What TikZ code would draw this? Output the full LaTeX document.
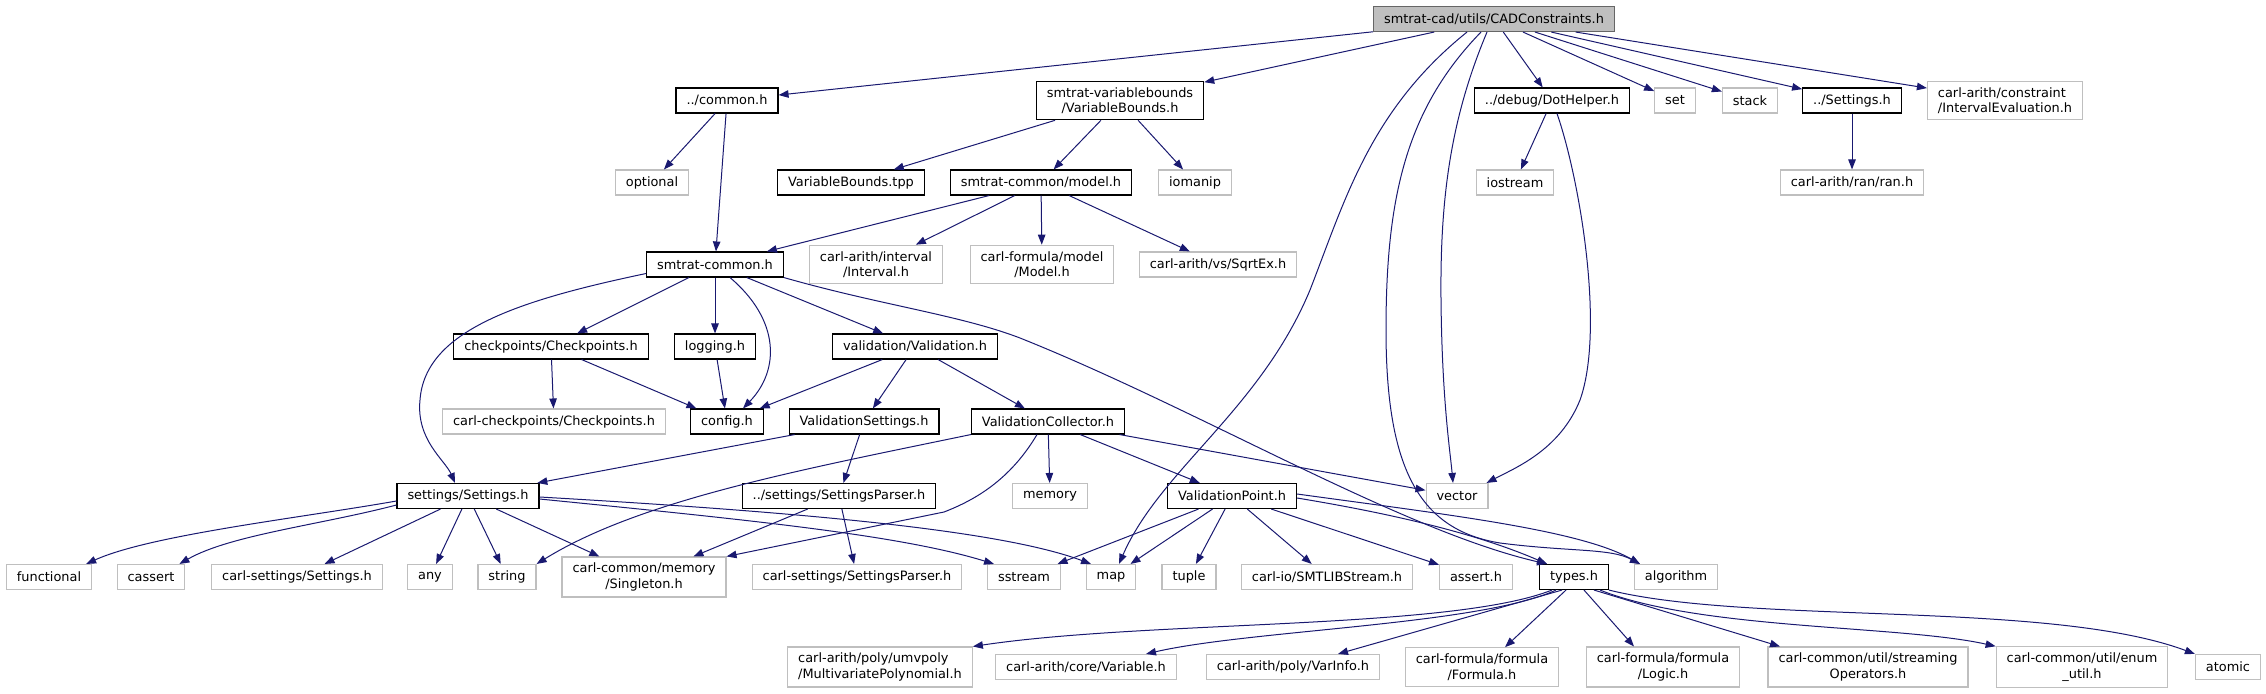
\documentclass[tikz,border=0pt]{standalone}
\usepackage{fontspec}
\setmainfont{DejaVu Sans}
\usepackage{xcolor}
\usetikzlibrary{arrows.meta}
\definecolor{edgeblue}{HTML}{191970}
\definecolor{grayline}{HTML}{BFBFBF}
\definecolor{rootfill}{HTML}{BFBFBF}
\tikzset{
  box/.style     ={draw,align=center,inner xsep=10.5pt,inner ysep=6pt,minimum height=25pt,
                   line width=1.1pt,font=\fontsize{12.9}{15.5}\selectfont,fill=white},
  file/.style    ={box,draw=black},
  sysfile/.style ={box,draw=grayline},
  rootfile/.style={box,draw=black!60,fill=rootfill},
  inc/.style     ={-{Triangle[length=10pt,width=7.5pt]},line width=1pt,edgeblue},
}
\begin{document}
\begin{tikzpicture}[x=1pt,y=-1pt]
  \useasboundingbox (0,0) rectangle (2266,693);
  % root and first level
  \node[rootfile] (root) at (1494,19) {smtrat-cad/utils/CADConstraints.h};
  \node[file]    (common)    at (727,100.5)  {../common.h};
  \node[file]    (varbounds) at (1120,100.5) {smtrat-variablebounds\\/VariableBounds.h};
  \node[file]    (dothelper) at (1552,100.5) {../debug/DotHelper.h};
  \node[sysfile] (set)       at (1675,100.5) {set};
  \node[sysfile] (stack)     at (1750,100.5) {stack};
  \node[file]    (settingsT) at (1852,100.5) {../Settings.h};
  \node[sysfile,align=left] (intereval) at (2005,100.5) {carl-arith/constraint\\/IntervalEvaluation.h};
  % second level
  \node[sysfile] (optional) at (652,182.5)  {optional};
  \node[file]    (vbtpp)    at (851,182.5)  {VariableBounds.tpp};
  \node[file]    (model)    at (1041,182.5) {smtrat-common/model.h};
  \node[sysfile] (iomanip)  at (1195,182.5) {iomanip};
  \node[sysfile] (iostream) at (1515,182.5) {iostream};
  \node[sysfile] (ran)      at (1852,182.5) {carl-arith/ran/ran.h};
  % smtrat-common row
  \node[file]    (smtcommon) at (715,264.5)  {smtrat-common.h};
  \node[sysfile] (interval)  at (876,264.5)  {carl-arith/interval\\/Interval.h};
  \node[sysfile] (modelh)    at (1042,264.5) {carl-formula/model\\/Model.h};
  \node[sysfile] (sqrtex)    at (1218,264.5) {carl-arith/vs/SqrtEx.h};
  \node[file]    (checkpoints) at (551,346.5) {checkpoints/Checkpoints.h};
  \node[file]    (logging)     at (715,346.5) {logging.h};
  \node[file]    (validation)  at (915,346.5) {validation/Validation.h};
  \node[sysfile] (carlcheck)    at (554,421.5)  {carl-checkpoints/Checkpoints.h};
  \node[file]    (config)       at (727,421.5)  {config.h};
  \node[file]    (valsettings)  at (864,421.5)  {ValidationSettings.h};
  \node[file]    (valcollector) at (1048,421.5) {ValidationCollector.h};
  \node[file]    (settings) at (468,496)  {settings/Settings.h};
  \node[file]    (parser)   at (839,496)  {../settings/SettingsParser.h};
  \node[sysfile] (memory)   at (1050,496) {memory};
  \node[file]    (valpoint) at (1232,496) {ValidationPoint.h};
  \node[sysfile] (vector)   at (1457,496) {vector};
  % leaf row
  \node[sysfile] (functional)   at (49,577)   {functional};
  \node[sysfile] (cassert)      at (151,577)  {cassert};
  \node[sysfile] (carlsettings) at (297,577)  {carl-settings/Settings.h};
  \node[sysfile] (any)          at (430,577)  {any};
  \node[sysfile] (string)       at (507,577)  {string};
  \node[sysfile] (singleton)    at (644,577)  {carl-common/memory\\/Singleton.h};
  \node[sysfile] (carlparser)   at (857,577)  {carl-settings/SettingsParser.h};
  \node[sysfile] (sstream)      at (1024,577) {sstream};
  \node[sysfile] (map)          at (1111,577) {map};
  \node[sysfile] (tuple)        at (1189,577) {tuple};
  \node[sysfile] (smtlib)       at (1327,577) {carl-io/SMTLIBStream.h};
  \node[sysfile] (asserth)      at (1476,577) {assert.h};
  \node[file]    (types)        at (1574,577) {types.h};
  \node[sysfile] (algorithm)    at (1676,577) {algorithm};
  % types.h row
  \node[sysfile,align=left] (multipoly) at (880,667) {carl-arith/poly/umvpoly\\/MultivariatePolynomial.h};
  \node[sysfile] (variable)  at (1086,667) {carl-arith/core/Variable.h};
  \node[sysfile] (varinfo)   at (1293,667) {carl-arith/poly/VarInfo.h};
  \node[sysfile] (formula)   at (1482,667) {carl-formula/formula\\/Formula.h};
  \node[sysfile] (logic)     at (1663,667) {carl-formula/formula\\/Logic.h};
  \node[sysfile] (streaming) at (1868,667) {carl-common/util/streaming\\Operators.h};
  \node[sysfile] (enumutil)  at (2082,667) {carl-common/util/enum\\\_util.h};
  \node[sysfile] (atomic)    at (2228,667) {atomic};
  % straight includes
  \foreach \a/\b in {root/common, root/varbounds, root/dothelper, root/set, root/stack,
                     root/settingsT, root/intereval, common/optional, common/smtcommon,
                     varbounds/vbtpp, varbounds/model, varbounds/iomanip,
                     dothelper/iostream, settingsT/ran, model/smtcommon, model/interval,
                     model/modelh, model/sqrtex, smtcommon/checkpoints, smtcommon/logging,
                     smtcommon/validation, checkpoints/carlcheck, checkpoints/config,
                     logging/config, validation/config, validation/valsettings,
                     validation/valcollector, valsettings/settings, valsettings/parser,
                     valcollector/memory, valcollector/valpoint, valcollector/vector,
                     settings/carlsettings, settings/any, settings/string, settings/singleton,
                     parser/singleton, parser/carlparser, valpoint/sstream, valpoint/map,
                     valpoint/tuple, valpoint/smtlib, valpoint/asserth}
    \draw[inc] (\a) -- (\b);
  % long curved includes
  \draw[inc] ([xshift=-27pt]root.south) .. controls (1370,110) and (1345,200) .. (1310,290)
             .. controls (1260,410) and (1160,470) .. ([xshift=8pt]map.north);
  \draw[inc] ([xshift=-13pt]root.south) .. controls (1405,110) and (1386,200) .. (1386,330)
             .. controls (1386,470) and (1420,530) .. (1500,543)
             .. controls (1570,552) and (1610,548) .. ([xshift=-36pt]algorithm.north);
  \draw[inc] ([xshift=-7pt]root.south) .. controls (1450,120) and (1440,200) .. (1441,300)
             .. controls (1442,400) and (1450,450) .. ([xshift=-4pt]vector.north);
  \draw[inc] ([xshift=5pt]dothelper.south) .. controls (1580,180) and (1605,330) .. (1580,400)
             .. controls (1560,450) and (1515,468) .. ([xshift=-2pt]vector.north east);
  \draw[inc] ([yshift=-9pt]smtcommon.west) .. controls (520,300) and (425,330) .. (420,400)
             .. controls (416,440) and (445,460) .. ([xshift=-13pt]settings.north);
  \draw[inc] ([xshift=15pt]smtcommon.south) .. controls (780,320) and (780,370) .. ([xshift=16pt]config.north);
  \draw[inc] (smtcommon.south east) .. controls (880,305) and (960,315) .. (1020,338)
             .. controls (1200,410) and (1400,530) .. ([xshift=-27pt]types.north);
  \draw[inc] (valcollector.south west) .. controls (800,470) and (640,500) .. (string.north east);
  \draw[inc] ([xshift=-11pt]valcollector.south) .. controls (1010,480) and (975,500) .. (944,512)
             -- (singleton.north east);
  \draw[inc] ([yshift=-3pt]settings.east) .. controls (750,520) and (900,535) .. ([xshift=-30pt]sstream.north);
  \draw[inc] ([yshift=-1pt]settings.east) .. controls (800,512) and (1000,530) .. ([xshift=-20pt]map.north);
  \draw[inc] ([yshift=-5pt]settings.west) .. controls (300,518) and (150,535) .. ([xshift=-6pt]functional.north east);
  \draw[inc] ([yshift=-9pt]settings.west) .. controls (320,525) and (230,535) .. ([xshift=-6pt]cassert.north east);
  \draw[inc] ([yshift=-2pt]valpoint.east) .. controls (1400,515) and (1480,535) .. ([xshift=-27pt]types.north);
  \draw[inc] ([yshift=2pt]valpoint.east) .. controls (1450,515) and (1580,530) .. ([xshift=-36pt]algorithm.north);
  % types.h fan-out
  \draw[inc] ([xshift=-22pt]types.south) .. controls (1450,630) and (1150,620) .. (multipoly.north east);
  \draw[inc] ([xshift=-18pt]types.south) .. controls (1480,625) and (1250,630) .. ([xshift=60pt]variable.north);
  \draw[inc] ([xshift=-12pt]types.south) -- ([xshift=45pt]varinfo.north);
  \draw[inc] ([xshift=-8pt]types.south) -- ([xshift=23pt]formula.north);
  \draw[inc] ([xshift=10pt]types.south) -- ([xshift=-29pt]logic.north);
  \draw[inc] ([xshift=20pt]types.south) -- ([xshift=-88pt]streaming.north);
  \draw[inc] ([xshift=26pt]types.south) .. controls (1700,630) and (1900,625) .. (enumutil.north west);
  \draw[inc] (types.south east) .. controls (1750,625) and (2050,600) .. (atomic.north west);
\end{tikzpicture}
\end{document}
